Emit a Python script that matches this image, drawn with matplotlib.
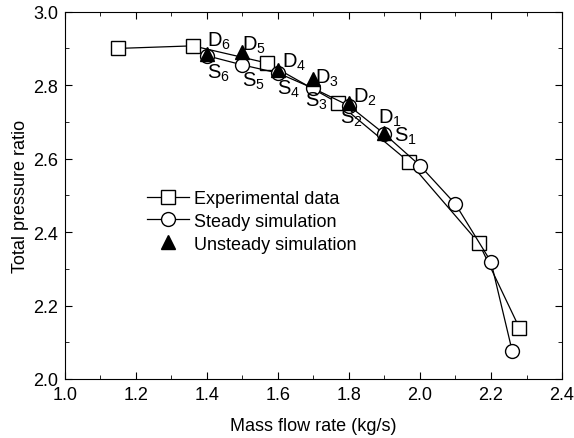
import matplotlib
matplotlib.use("Agg")
import matplotlib.pyplot as plt
from matplotlib.ticker import MultipleLocator

plt.rcParams['font.family'] = ['Liberation Sans', 'DejaVu Sans']
plt.rcParams['mathtext.fontset'] = 'custom'
plt.rcParams['mathtext.rm'] = 'Liberation Sans'

# experimental data
exp_x = [1.15, 1.36, 1.57, 1.77, 1.97, 2.166, 2.28]
exp_y = [2.90, 2.907, 2.86, 2.751, 2.59, 2.37, 2.139]

# steady simulation
st_x = [1.40, 1.50, 1.60, 1.70, 1.80, 1.90, 2.00, 2.10, 2.20, 2.26]
st_y = [2.88, 2.855, 2.833, 2.791, 2.744, 2.667, 2.581, 2.476, 2.319, 2.075]

# unsteady simulation
un_x = [1.40, 1.50, 1.60, 1.70, 1.80, 1.90]
un_y = [2.885, 2.889, 2.841, 2.817, 2.751, 2.671]

# point labels
d_labels = ['D6', 'D5', 'D4', 'D3', 'D2', 'D1']
d_pos = [(1.40, 2.907), (1.498, 2.896), (1.61, 2.849), (1.704, 2.808), (1.81, 2.755), (1.883, 2.697)]
s_labels = ['S6', 'S5', 'S4', 'S3', 'S2', 'S1']
s_pos = [(1.399, 2.821), (1.498, 2.798), (1.596, 2.776), (1.676, 2.744), (1.775, 2.699), (1.927, 2.649)]

fig = plt.figure(figsize=(5.74, 4.39), dpi=100)
ax = fig.add_axes([0.1132, 0.1344, 0.8659, 0.8367])

ax.plot(exp_x, exp_y, '-s', color='black', lw=0.9, ms=9.5, mfc='white', mec='black', mew=1.0,
        label='Experimental data')
ax.plot(st_x, st_y, '-o', color='black', lw=0.9, ms=10, mfc='white', mec='black', mew=1.0,
        label='Steady simulation')
ax.plot(un_x, un_y, '^', color='black', ms=10, mfc='black', mec='black',
        label='Unsteady simulation', linestyle='none')

for lab, (x, y) in zip(d_labels + s_labels, d_pos + s_pos):
    ax.text(x, y, r'$\mathregular{%s_{%s}}$' % (lab[0], lab[1]), fontsize=14.5, ha='left', va='baseline')

ax.set_xlim(1.0, 2.4)
ax.set_ylim(2.0, 3.0)
ax.xaxis.set_major_locator(MultipleLocator(0.2))
ax.xaxis.set_minor_locator(MultipleLocator(0.1))
ax.yaxis.set_major_locator(MultipleLocator(0.2))
ax.yaxis.set_minor_locator(MultipleLocator(0.1))
ax.tick_params(which='both', direction='in', top=True, right=True, labelsize=13, pad=5)
ax.tick_params(which='major', length=5)
ax.tick_params(which='minor', length=3)
ax.set_xlabel('Mass flow rate (kg/s)', fontsize=13, labelpad=10)
ax.set_ylabel('Total pressure ratio', fontsize=13, labelpad=3)

ax.legend(loc='upper left', bbox_to_anchor=(0.165, 0.515), frameon=False, fontsize=13,
          borderpad=0, borderaxespad=0, handlelength=2.3, handletextpad=0.3, labelspacing=0.33)

fig.savefig('out.png', dpi=100)
